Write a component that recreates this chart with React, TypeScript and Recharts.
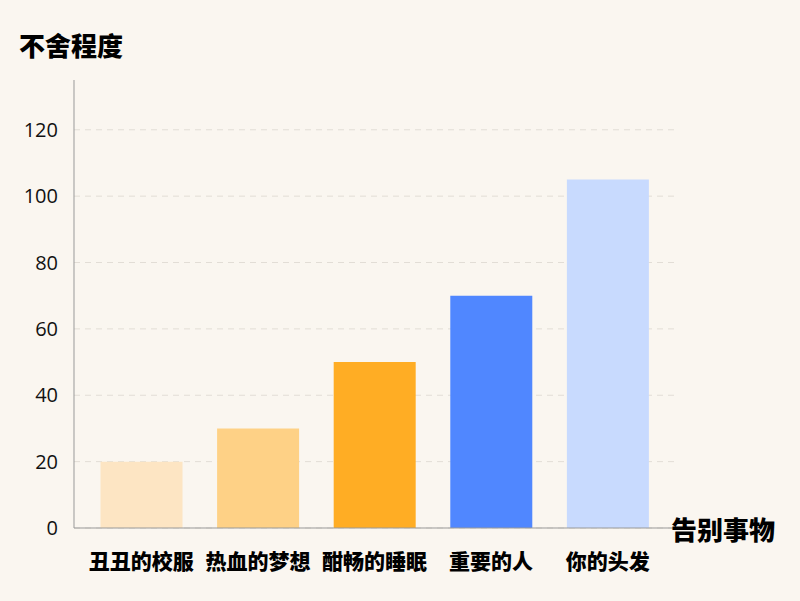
import React from 'react';
import { BarChart, Bar, XAxis, YAxis, CartesianGrid, Cell } from 'recharts';

const categories = ['丑丑的校服', '热血的梦想', '酣畅的睡眠', '重要的人', '你的头发'];
const values = [20, 30, 50, 70, 105];
const colors = ['#FDE5C3', '#FED186', '#FFAD24', '#5087FF', '#C8DAFE'];
const yTicks = [0, 20, 40, 60, 80, 100, 120];

const data = categories.map((name, i) => ({ name, value: values[i] }));

const cjk = '"Noto Sans CJK SC", sans-serif';

export default function App() {
  return (
    <div style={{ position: 'absolute', left: 0, top: 0, width: 800, height: 601, background: '#FAF6F0' }}>
      <BarChart
        width={800}
        height={601}
        data={data}
        margin={{ top: 80, right: 124, bottom: 33, left: 24 }}
        barCategoryGap="15%"
      >
        <CartesianGrid vertical={false} syncWithTicks stroke="#E2DDD6" strokeDasharray="6 5" />
        <XAxis
          dataKey="name"
          height={40}
          stroke="#999"
          tickLine={false}
          padding={{ left: 9, right: 10 }}
          tickMargin={20}
          tick={{ fill: '#000', fontSize: 21, fontWeight: 900, fontFamily: cjk }}
          interval={0}
        />
        <YAxis
          width={50}
          domain={[0, 135]}
          ticks={yTicks}
          stroke="#999"
          tickLine={false}
          tickMargin={10}
          tick={{ fill: '#111', fontSize: 20, fontFamily: '"Open Sans", sans-serif' }}
        />
        <Bar dataKey="value" isAnimationActive={false}>
          {data.map((d, i) => (
            <Cell key={d.name} fill={colors[i]} />
          ))}
        </Bar>
      </BarChart>
      <div style={{ position: 'absolute', left: 19, top: 27, fontFamily: cjk, fontWeight: 900, fontSize: 26, color: '#000', lineHeight: '36px' }}>
        不舍程度
      </div>
      <div style={{ position: 'absolute', left: 671, top: 511, fontFamily: cjk, fontWeight: 900, fontSize: 26, color: '#000', lineHeight: '36px' }}>
        告别事物
      </div>
    </div>
  );
}
